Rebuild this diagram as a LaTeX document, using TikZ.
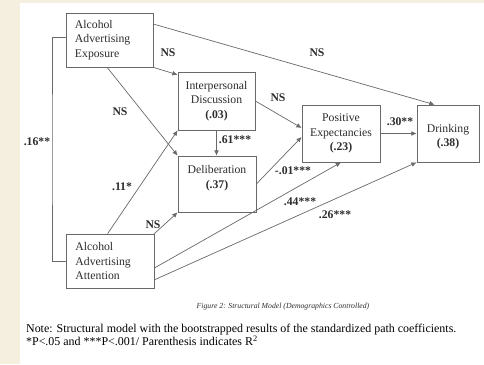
\documentclass[tikz,border=0pt]{standalone}
\usepackage{fontspec}
\setmainfont{Liberation Serif}
\usetikzlibrary{arrows.meta, positioning}

\definecolor{pagebeige}{RGB}{244,239,222}
\definecolor{linegray}{RGB}{105,105,105}
\definecolor{inkgray}{RGB}{45,45,45}

\begin{document}
\begin{tikzpicture}[
    x = 0.03cm, y = -0.03cm,
    box/.style = {rectangle, draw=linegray, line width=0.6pt, text=inkgray, align=center,
                  inner sep=0pt, font=\fontsize{10}{12.5}\selectfont},
    source/.style = {box, align=left, text width=2.07cm},
    arrow/.style = {draw=linegray, line width=0.6pt, -{Latex[length=4.5pt,width=4pt]}},
    link/.style = {draw=linegray, line width=0.6pt},
    coef/.style = {text=inkgray, inner sep=1pt, font=\bfseries\fontsize{10}{12}\selectfont}
]

    % Page background
    \fill[pagebeige] (0,0) rectangle (484,364);
    \fill[white] (20,3) rectangle (484,364);
    \useasboundingbox (0,0) rectangle (484,364);

    % Predictors
    \node[source, minimum width=2.61cm, minimum height=1.62cm] (expo) at (109.5,40) {Alcohol\\Advertising\\Exposure};
    \node[source, minimum width=2.64cm, minimum height=1.62cm] (attn) at (110,261) {Alcohol\\Advertising\\Attention};

    % Mediators
    \node[box, minimum width=2.31cm, minimum height=1.74cm] (disc) at (216.5,101) {Interpersonal\\Discussion\\\textbf{(.03)}};
    \node[box, minimum width=2.34cm, minimum height=1.68cm] (delib) at (217,184) {Deliberation\\\textbf{(.37)}\\\mbox{}};
    \node[box, minimum width=2.34cm, minimum height=1.71cm] (posexp) at (341,133.5) {Positive\\Expectancies\\\textbf{(.23)}};

    % Outcome
    \node[box, minimum width=1.86cm, minimum height=1.71cm] (drink) at (448,133.5) {\mbox{}\\Drinking\\\textbf{(.38)}};

    % Paths
    \draw[arrow] (expo.20) -- (drink.115);
    \draw[arrow] (expo.south east) -- (disc.146);
    \draw[arrow] (expo.-95) -- (delib.north west);
    \draw[arrow] (attn.95) -- (disc.south west);
    \draw[arrow] (attn.north east) -- (delib.south west);
    \draw[arrow] (disc.south) -- (disc.south |- delib.north);
    \draw[arrow] (disc.east) -- (posexp.172);
    \draw[arrow] (delib.east) -- (posexp.185);
    \draw[arrow] (attn.-9) -- (posexp.south);
    \draw[arrow] (attn.-23) -- (drink.south west);
    \draw[arrow] (posexp.east) -- (drink.west);

    % Correlation between predictors
    \coordinate (corrbend) at (52,150);
    \draw[link] (expo.176) -| (corrbend) |- (attn.west);

    % Coefficients
    \node[coef] (cExpoDrink) at (317,53) {NS};
    \node[coef] (cExpoDisc) at (168,53) {NS};
    \node[coef] (cExpoDelib) at (120,112) {NS};
    \node[coef] (cAttnDisc) at (122,187) {.11*};
    \node[coef] (cAttnDelib) at (153,225) {NS};
    \node[coef] (cDiscDelib) at (235,140) {.61***};
    \node[coef] (cDiscPos) at (278,98) {NS};
    \node[coef] (cDelibPos) at (293,171) {-.01***};
    \node[coef] (cAttnPos) at (300,202) {.44***};
    \node[coef] (cAttnDrink) at (335,215) {.26***};
    \node[coef] (cPosDrink) at (400,122) {.30**};
    \node[coef] (cCorr) at (37,142) {.16**};

    % Caption and note
    \node[text=inkgray, font=\itshape\fontsize{6.6}{8}\selectfont] (caption) at (283,307) {Figure 2: Structural Model (Demographics Controlled)};
    \node[anchor=west, align=left, text=black, font=\fontsize{10.2}{10.4}\selectfont] (note) at (22,335)
        {Note: Structural model with the bootstrapped results of the standardized path coefficients.\\\mbox{*}P<.05 and ***P<.001/ Parenthesis indicates R\textsuperscript{2}};

\end{tikzpicture}
\end{document}
